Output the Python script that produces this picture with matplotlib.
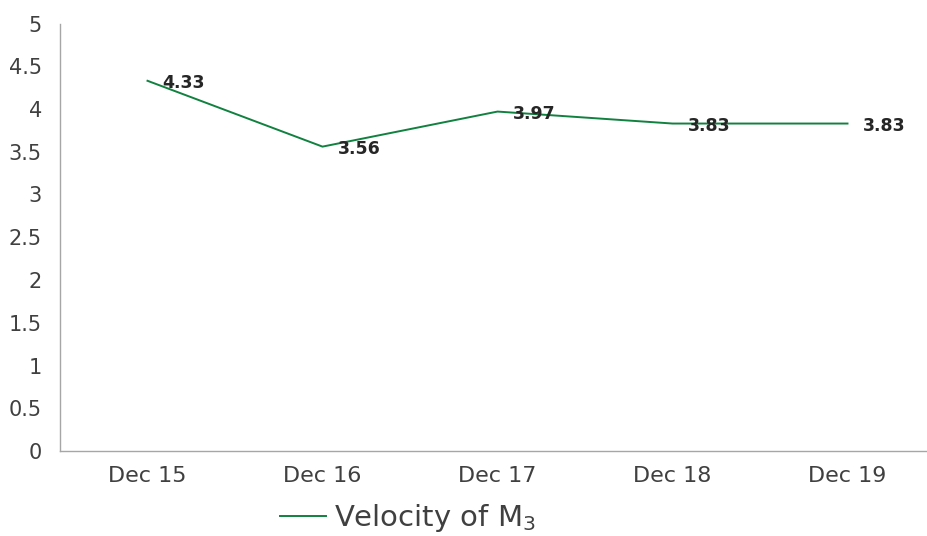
import matplotlib
matplotlib.use("Agg")
import matplotlib.pyplot as plt

# data
categories = ["Dec 15", "Dec 16", "Dec 17", "Dec 18", "Dec 19"]
velocity = [4.33, 3.56, 3.97, 3.83, 3.83]
value_labels = ["4.33", "3.56", "3.97", "3.83", "3.83"]
y_ticks = [0, 0.5, 1, 1.5, 2, 2.5, 3, 3.5, 4, 4.5, 5]
y_tick_labels = ["0", "0.5", "1", "1.5", "2", "2.5", "3", "3.5", "4", "4.5", "5"]

W, H = 928, 536
fig = plt.figure(figsize=(W / 100, H / 100), dpi=100)
ax = fig.add_axes([60 / W, (H - 451) / H, (935 - 60) / W, (451 - 23.5) / H])

x = list(range(len(categories)))
line_color = "#10813f"
ax.plot(x, velocity, color=line_color, linewidth=1.4, label=r"Velocity of $\mathregular{M_3}$")

# data labels to the right of each point
for xi, yi, lab in zip(x, velocity, value_labels):
    ax.annotate(lab, (xi, yi), xytext=(15, -2), textcoords="offset pixels",
                ha="left", va="center", fontsize=12.5, fontweight="bold",
                color="#262626")

ax.set_xlim(-0.5, len(categories) - 0.5)
ax.set_ylim(0, 5)
ax.set_xticks(x)
ax.set_xticklabels(categories)
ax.set_yticks(y_ticks)
ax.set_yticklabels(y_tick_labels)
ax.tick_params(axis="y", length=0, labelsize=15, labelcolor="#404040", pad=13)
ax.tick_params(axis="x", length=0, labelsize=16, labelcolor="#404040", pad=11)

for side in ["top", "right"]:
    ax.spines[side].set_visible(False)
for side in ["left", "bottom"]:
    ax.spines[side].set_color("#a6a6a6")
    ax.spines[side].set_linewidth(1.0)

leg = fig.legend(loc="center", bbox_to_anchor=(408 / W, 1 - 518 / H),
                 frameon=False, fontsize=21, handlelength=1.58,
                 handletextpad=0.25, labelcolor="#404040")

fig.savefig("out.png", dpi=100)
